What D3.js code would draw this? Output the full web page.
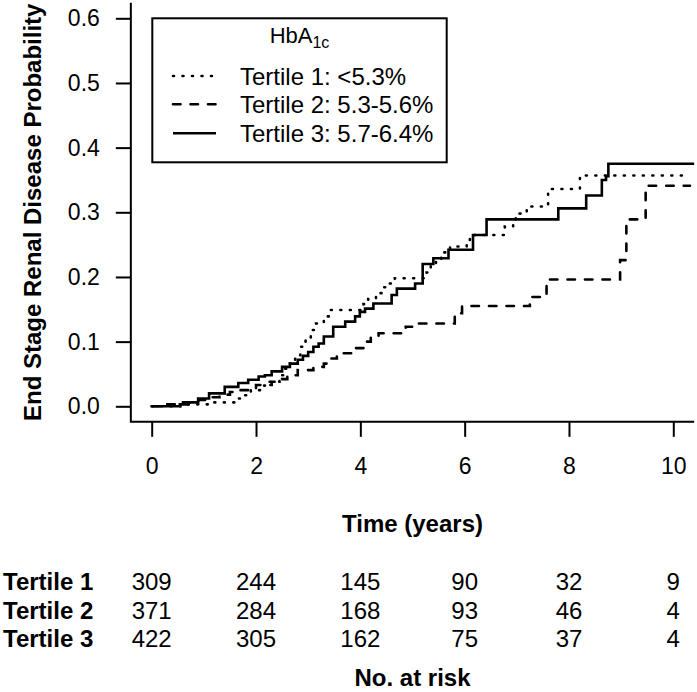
<!DOCTYPE html>
<html>
<head>
<meta charset="utf-8">
<script src="https://cdn.jsdelivr.net/npm/d3@7"></script>
<style>
    body { margin: 0; background: #fff; }
    svg text { font-family: "Liberation Sans", Arial, sans-serif; fill: #000; }
</style>
</head>
<body>
<div id="chart"></div>
<script>
// Cumulative ESRD probability by HbA1c tertile
const tertile1Times = [0, 0.55, 1.2, 1.6, 1.75, 1.9, 2.1, 2.25, 2.45, 2.55, 2.65, 2.75, 2.85, 2.95, 3.05, 3.15, 3.3, 3.42, 4.06, 4.15, 4.3, 4.45, 4.55, 4.66, 5.27, 5.35, 5.45, 5.55, 5.72, 6.04, 6.1, 6.77, 6.93, 6.98, 7.19, 7.6, 8.21];
const tertile1Probs = [0, 0.003, 0.006, 0.012, 0.017, 0.025, 0.032, 0.038, 0.048, 0.058, 0.066, 0.079, 0.092, 0.105, 0.118, 0.128, 0.139, 0.149, 0.158, 0.166, 0.175, 0.184, 0.19, 0.198, 0.207, 0.218, 0.228, 0.238, 0.247, 0.256, 0.265, 0.278, 0.289, 0.298, 0.309, 0.336, 0.357];

const tertile2Times = [0, 0.3, 0.6, 0.9, 1.1, 1.3, 1.5, 1.7, 2.0, 2.3, 2.5, 2.6, 2.8, 3.1, 3.3, 3.4, 3.55, 3.9, 4.07, 4.2, 4.35, 4.87, 5.08, 5.81, 5.95, 7.25, 7.57, 8.98, 9.1, 9.47];
const tertile2Probs = [0, 0.003, 0.006, 0.01, 0.014, 0.018, 0.022, 0.025, 0.033, 0.038, 0.042, 0.048, 0.056, 0.061, 0.066, 0.074, 0.082, 0.09, 0.1, 0.108, 0.113, 0.123, 0.128, 0.144, 0.155, 0.169, 0.196, 0.226, 0.289, 0.341];

const tertile3Times = [0, 0.54, 0.7, 0.89, 1.1, 1.4, 1.66, 1.85, 2.05, 2.17, 2.3, 2.5, 2.65, 2.8, 2.9, 3.0, 3.1, 3.2, 3.3, 3.48, 3.71, 3.9, 3.99, 4.09, 4.25, 4.6, 4.7, 5.05, 5.195, 5.4, 5.69, 6.16, 6.42, 7.795, 8.33, 8.63, 8.71, 8.755];
const tertile3Probs = [0, 0.003, 0.006, 0.012, 0.02, 0.03, 0.036, 0.041, 0.046, 0.048, 0.054, 0.061, 0.066, 0.072, 0.078, 0.084, 0.092, 0.097, 0.108, 0.123, 0.131, 0.139, 0.146, 0.151, 0.159, 0.172, 0.182, 0.19, 0.22, 0.229, 0.242, 0.265, 0.289, 0.306, 0.326, 0.35, 0.356, 0.375];

// last follow-up time of each curve
const followUpEnd = [10.32, 10.32, 10.4];

const seriesLabels = ['Tertile 1: <5.3%', 'Tertile 2: 5.3-5.6%', 'Tertile 3: 5.7-6.4%'];
const rowLabels = ['Tertile 1', 'Tertile 2', 'Tertile 3'];

// number at risk
const riskTimes = [0, 2, 4, 6, 8, 10];
const risk1 = [309, 244, 145, 90, 32, 9];
const risk2 = [371, 284, 168, 93, 46, 4];
const risk3 = [422, 305, 162, 75, 37, 4];

const xTicks = [0, 2, 4, 6, 8, 10];
const yTicks = [0, 0.1, 0.2, 0.3, 0.4, 0.5, 0.6];

const width = 697;
const height = 692;

const svg = d3.select('#chart')
    .append('svg')
    .attr('width', width)
    .attr('height', height);

// Scales
const x = d3.scaleLinear().domain([0, 10]).range([151.7, 673.3]);
const y = d3.scaleLinear().domain([0, 0.6]).range([406.3, 18.3]);

// plot region with R style 4% padding
const plotLeft = x(-0.4);
const plotRight = x(10.4);
const plotTop = y(0.624);
const plotBottom = y(-0.024);

// Axes
const yAxis = svg.append('g')
    .attr('transform', `translate(${plotLeft},0)`)
    .call(d3.axisLeft(y)
        .tickValues(yTicks)
        .tickSize(15)
        .tickPadding(16)
        .tickFormat(d3.format('.1f')));
yAxis.select('.domain').remove();
yAxis.selectAll('line').attr('stroke-width', 2);
yAxis.selectAll('text').style('font-size', '23px');

const xAxis = svg.append('g')
    .attr('transform', `translate(0,${plotBottom})`)
    .call(d3.axisBottom(x)
        .tickValues(xTicks)
        .tickSize(15)
        .tickPadding(21)
        .tickFormat(d3.format('d')));
xAxis.select('.domain').remove();
xAxis.selectAll('line').attr('stroke-width', 2);
xAxis.selectAll('text').style('font-size', '23px');

// L shaped box
svg.append('path')
    .attr('d', `M${plotLeft},${plotTop}V${plotBottom}H${plotRight}`)
    .attr('fill', 'none')
    .attr('stroke', '#000')
    .attr('stroke-width', 2);

svg.append('text')
    .attr('transform', `translate(41,${(plotTop + plotBottom) / 2}) rotate(-90)`)
    .style('text-anchor', 'middle')
    .style('font-size', '24px')
    .style('font-weight', 'bold')
    .text('End Stage Renal Disease Probability');

svg.append('text')
    .attr('x', x(5))
    .attr('y', 532)
    .style('text-anchor', 'middle')
    .style('font-size', '24px')
    .style('font-weight', 'bold')
    .text('Time (years)');

// Curves
const dashes = ['1,8.5', '7.5,10', null];
const series = [
    [tertile1Times, tertile1Probs],
    [tertile2Times, tertile2Probs],
    [tertile3Times, tertile3Probs]
].map(([times, probs], i) => {
    const pts = times.map((t, j) => [t, probs[j]]);
    pts.push([followUpEnd[i], probs[probs.length - 1]]);
    return pts;
});

const line = d3.line()
    .x(d => x(d[0]))
    .y(d => y(d[1]))
    .curve(d3.curveStepAfter);

svg.selectAll('.km')
    .data(series)
    .enter()
    .append('path')
    .attr('class', 'km')
    .attr('d', line)
    .attr('fill', 'none')
    .attr('stroke', '#000')
    .attr('stroke-width', 2.6)
    .attr('stroke-linecap', (d, i) => i === 2 ? 'butt' : 'round')
    .attr('stroke-dasharray', (d, i) => dashes[i]);

// Legend
const legend = svg.append('g');
legend.append('rect')
    .attr('x', 152.3)
    .attr('y', 18.3)
    .attr('width', 294.4)
    .attr('height', 144)
    .attr('fill', '#fff')
    .attr('stroke', '#000')
    .attr('stroke-width', 2);

const title = legend.append('text')
    .attr('x', 299.5)
    .attr('y', 43)
    .style('text-anchor', 'middle')
    .style('font-size', '22px');
title.append('tspan').text('HbA');
title.append('tspan')
    .attr('dy', 5)
    .style('font-size', '16px')
    .text('1c');

const legendRows = [76, 104.3, 133.3];
seriesLabels.forEach((label, i) => {
    legend.append('line')
        .attr('x1', 173)
        .attr('x2', 216)
        .attr('y1', legendRows[i])
        .attr('y2', legendRows[i])
        .attr('stroke', '#000')
        .attr('stroke-width', 2.6)
        .attr('stroke-linecap', i === 2 ? 'butt' : 'round')
        .attr('stroke-dasharray', dashes[i]);
    legend.append('text')
        .attr('x', 240)
        .attr('y', legendRows[i])
        .attr('dy', '0.36em')
        .style('font-size', '24px')
        .text(label);
});

// Number at risk table
const riskRows = [risk1, risk2, risk3];
const rowY = [590, 618.5, 647];
riskRows.forEach((counts, i) => {
    svg.append('text')
        .attr('x', 3)
        .attr('y', rowY[i])
        .style('font-size', '24px')
        .style('font-weight', 'bold')
        .text(rowLabels[i]);
    svg.selectAll(`.risk${i}`)
        .data(counts)
        .enter()
        .append('text')
        .attr('class', `risk${i}`)
        .attr('x', (d, j) => x(riskTimes[j]))
        .attr('y', rowY[i])
        .style('text-anchor', 'middle')
        .style('font-size', '24px')
        .text(d => d);
});

svg.append('text')
    .attr('x', x(5))
    .attr('y', 686)
    .style('text-anchor', 'middle')
    .style('font-size', '24px')
    .style('font-weight', 'bold')
    .text('No. at risk');
</script>
</body>
</html>
